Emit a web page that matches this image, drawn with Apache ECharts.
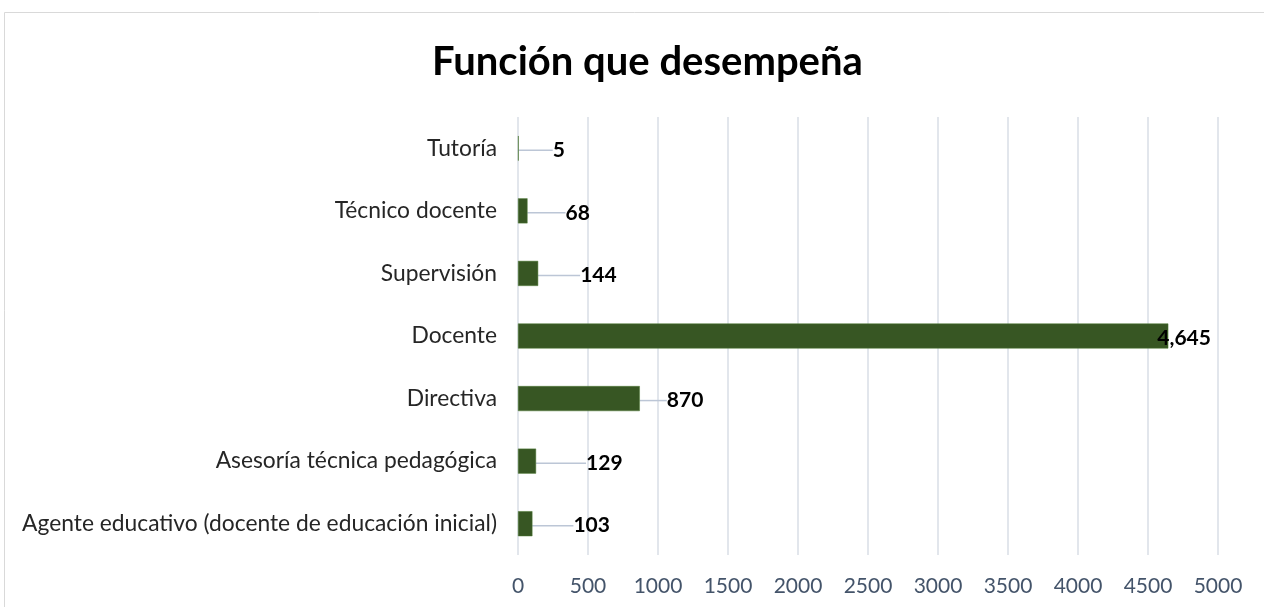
<!DOCTYPE html>
<html><head><meta charset="utf-8">
<script src="https://cdn.jsdelivr.net/npm/echarts@6/dist/echarts.min.js"></script>
<style>html,body{margin:0;padding:0;background:#fff}#c{width:1264px;height:607px}</style>
</head><body><div id="c"></div>
<script>
const categories = ['Agente educativo (docente de educación inicial)','Asesoría técnica pedagógica','Directiva','Docente','Supervisión','Técnico docente','Tutoría'];
const values = [103,129,870,4645,144,68,5];
const xTicks = [0,500,1000,1500,2000,2500,3000,3500,4000,4500,5000];
const labelDx = [41,50,27,-11,42,38,34];

const chart = echarts.init(document.getElementById('c'));
chart.setOption({
  backgroundColor:'#fff',
  animation:false,
  title:{text:'Función que desempeña',left:427,top:37,textStyle:{fontFamily:'Lato',fontWeight:'bold',fontSize:40,color:'#000'}},
  graphic:[{type:'rect',shape:{x:4.5,y:12.5,width:1270,height:610},style:{fill:'none',stroke:'#D9D9D9',lineWidth:1},silent:true}],
  grid:{left:518,right:46,top:117,bottom:52,containLabel:false},
  xAxis:{type:'value',min:0,max:5000,interval:500,
    axisLine:{show:false},axisTick:{show:false},
    splitLine:{lineStyle:{color:'#D9DEE6',width:1.5}},
    axisLabel:{fontFamily:'Lato',fontSize:21,color:'#44546A',margin:21,formatter:v=>xTicks.includes(v)?String(v):''}},
  yAxis:{type:'category',data:categories,
    axisLine:{show:false},axisTick:{show:false},
    axisLabel:{fontFamily:'Lato',fontSize:22.8,color:'#262626',margin:21}},
  series:[{type:'bar',data:values.map((v,i)=>i===3?{value:v,labelLine:{show:false}}:v),
    barCategoryGap:'60%',
    itemStyle:{color:'#375623',borderColor:'#4E7A34',borderWidth:0.5},
    label:{show:true,position:'right',distance:0,fontFamily:'Lato',fontWeight:'bold',fontSize:21,color:'#000',
      formatter:p=>p.value.toLocaleString('en-US')},
    labelLayout:function(p){return {dx:labelDx[p.dataIndex], dy:2};},
    labelLine:{show:true,lineStyle:{color:'#BCC6D6',width:1.5}}
  }]
});
</script></body></html>
